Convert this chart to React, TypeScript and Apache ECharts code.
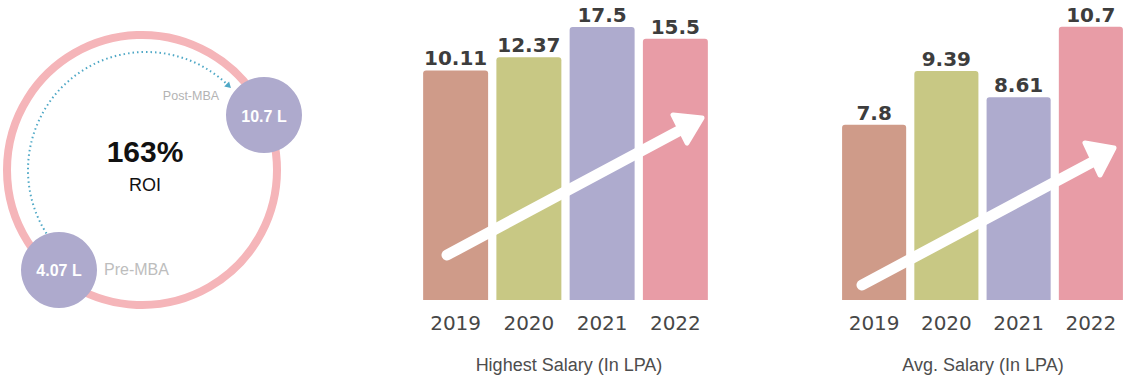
import React, { useEffect, useRef } from "react";
import * as echarts from "echarts";

// ---- data ----
const years = ["2019", "2020", "2021", "2022"];
const highestSalary = [10.11, 12.37, 17.5, 15.5];
const avgSalary = [7.8, 9.39, 8.61, 10.7];
const barColors = ["#cf9b89", "#c8c884", "#aeabce", "#e89ca6"];
const preMBA = 4.07;
const postMBA = 10.7;
const captions = ["Highest Salary (In LPA)", "Avg. Salary (In LPA)"];

// visual axis ranges (infographic, not zero-based)
const highMin = -29;
const highMax = 18.7;
const avgMin = 2.6;
const avgMax = 11.2;

const LABEL_FONT = 'bold 20px "DejaVu Sans"';

function makeRender(yMin: number) {
  return (params: any, api: any) => {
    const idx = params.dataIndex;
    const x = api.value(0);
    const v = api.value(1);
    const top = api.coord([x, v]);
    const base = api.coord([x, yMin]);
    const bw = api.size([1, 0])[0] * 0.887;
    return {
      type: "group",
      children: [
        {
          type: "rect",
          shape: { x: top[0] - bw / 2, y: top[1], width: bw, height: base[1] - top[1], r: [3, 3, 0, 0] },
          style: { fill: barColors[idx % barColors.length] },
        },
        {
          type: "text",
          style: {
            text: String(v),
            x: top[0],
            y: top[1] - 2,
            align: "center",
            verticalAlign: "bottom",
            font: LABEL_FONT,
            fill: "#3d3d3d",
          },
        },
      ],
    };
  };
}

export default function App() {
  const ref = useRef<HTMLDivElement>(null);
  useEffect(() => {
    if (!ref.current) return;
    const chart = echarts.init(ref.current, null, { renderer: "svg" });

    const roi = Math.round(((postMBA - preMBA) / preMBA) * 100);

    // dotted arc
    const acx = 146, acy = 170, ar = 118;
    const a0 = (147.5 * Math.PI) / 180;
    const a1 = (314 * Math.PI) / 180;
    const tx = acx + ar * Math.cos(a1) + 3;
    const ty = acy + ar * Math.sin(a1) + 3;
    const dx = -Math.sin(a1), dy = Math.cos(a1);
    const bx = tx - 6 * dx, by = ty - 6 * dy;
    const px = -dy, py = dx;

    const xAxisCommon = {
      type: "category",
      data: years,
      axisLine: { show: false },
      axisTick: { show: false },
      axisLabel: { fontFamily: "DejaVu Sans", fontSize: 20, color: "#474747", margin: 13 },
    };

    chart.setOption({
      animation: false,
      backgroundColor: "#ffffff",
      grid: [
        { left: 419, width: 293, top: 20, height: 280 },
        { left: 838, width: 292, top: 10, height: 290 },
      ],
      xAxis: [
        { ...xAxisCommon, gridIndex: 0 },
        { ...xAxisCommon, gridIndex: 1 },
      ],
      yAxis: [
        { type: "value", gridIndex: 0, min: highMin, max: highMax, show: false },
        { type: "value", gridIndex: 1, min: avgMin, max: avgMax, show: false },
      ],
      series: [
        {
          type: "custom",
          xAxisIndex: 0,
          yAxisIndex: 0,
          data: highestSalary.map((v, i) => [i, v]),
          encode: { x: 0, y: 1 },
          renderItem: makeRender(highMin),
        },
        {
          type: "custom",
          xAxisIndex: 1,
          yAxisIndex: 1,
          data: avgSalary.map((v, i) => [i, v]),
          encode: { x: 0, y: 1 },
          renderItem: makeRender(avgMin),
        },
      ],
      graphic: [
        // ROI ring
        { type: "circle", z: 10, shape: { cx: 142, cy: 170, r: 135 }, style: { fill: "none", stroke: "#f5b5b9", lineWidth: 8 } },
        {
          type: "arc",
          z: 11,
          shape: { cx: acx, cy: acy, r: ar, startAngle: a0, endAngle: a1, clockwise: true },
          style: { fill: "none", stroke: "#4fa8c6", lineWidth: 2, lineDash: [1.5, 3] },
        },
        {
          type: "polygon",
          z: 11,
          shape: { points: [[tx, ty], [bx + 3.5 * px, by + 3.5 * py], [bx - 3.5 * px, by - 3.5 * py]] },
          style: { fill: "#4fa8c6" },
        },
        {
          type: "text",
          z: 12,
          style: { text: roi + "%", x: 145, y: 151, align: "center", verticalAlign: "middle", font: 'bold 30px "Liberation Sans"', fill: "#111111" },
        },
        {
          type: "text",
          z: 12,
          style: { text: "ROI", x: 145, y: 185, align: "center", verticalAlign: "middle", font: '18px "Liberation Sans"', fill: "#111111" },
        },
        { type: "circle", z: 12, shape: { cx: 264, cy: 115, r: 38 }, style: { fill: "#aeaacd" } },
        {
          type: "text",
          z: 13,
          style: { text: postMBA + " L", x: 264, y: 116, align: "center", verticalAlign: "middle", font: 'bold 16px "Liberation Sans"', fill: "#ffffff" },
        },
        { type: "circle", z: 12, shape: { cx: 59, cy: 270, r: 38 }, style: { fill: "#aeaacd" } },
        {
          type: "text",
          z: 13,
          style: { text: preMBA + " L", x: 59, y: 270, align: "center", verticalAlign: "middle", font: 'bold 16px "Liberation Sans"', fill: "#ffffff" },
        },
        {
          type: "text",
          z: 12,
          style: { text: "Post-MBA", x: 191, y: 96, align: "center", verticalAlign: "middle", font: '12.5px "Liberation Sans"', fill: "#b3b3b3" },
        },
        {
          type: "text",
          z: 12,
          style: { text: "Pre-MBA", x: 104, y: 269, align: "left", verticalAlign: "middle", font: '16px "Liberation Sans"', fill: "#bdbdbd" },
        },
        // arrows
        { type: "line", z: 50, shape: { x1: 447, y1: 255, x2: 688, y2: 126 }, style: { stroke: "#ffffff", lineWidth: 11, lineCap: "round" } },
        {
          type: "polygon",
          z: 50,
          shape: { points: [[673, 115], [702, 118], [687, 143]] },
          style: { fill: "#ffffff", stroke: "#ffffff", lineWidth: 5, lineJoin: "round" },
        },
        { type: "line", z: 50, shape: { x1: 862, y1: 285, x2: 1098, y2: 159 }, style: { stroke: "#ffffff", lineWidth: 11, lineCap: "round" } },
        {
          type: "polygon",
          z: 50,
          shape: { points: [[1085, 143], [1114, 148], [1100, 175]] },
          style: { fill: "#ffffff", stroke: "#ffffff", lineWidth: 5, lineJoin: "round" },
        },
        // captions
        {
          type: "text",
          z: 12,
          style: { text: captions[0], x: 569, y: 365, align: "center", verticalAlign: "middle", font: '18px "Liberation Sans"', fill: "#4d4d4d" },
        },
        {
          type: "text",
          z: 12,
          style: { text: captions[1], x: 983, y: 365, align: "center", verticalAlign: "middle", font: '18px "Liberation Sans"', fill: "#4d4d4d" },
        },
      ],
    });
    return () => chart.dispose();
  }, []);
  return <div ref={ref} style={{ position: "absolute", left: 0, top: 0, width: 1127, height: 375 }} />;
}
